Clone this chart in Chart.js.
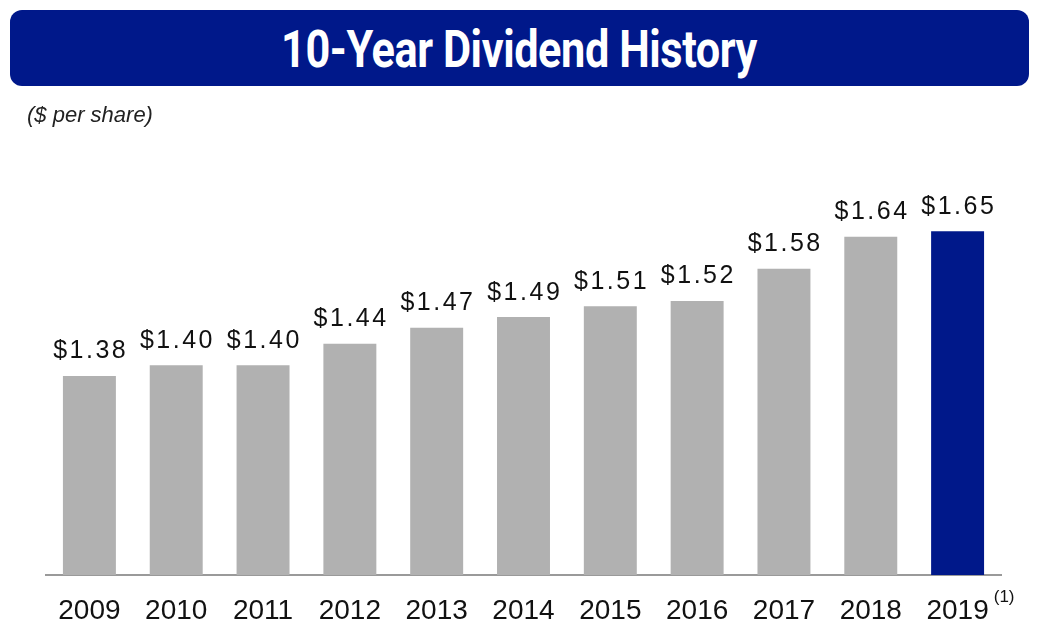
<!DOCTYPE html>
<html>
<head>
<meta charset="utf-8">
<script src="https://cdn.jsdelivr.net/npm/chart.js@4/dist/chart.umd.min.js"></script>
<style>
  html, body { margin: 0; padding: 0; background: #fff; }
  body { width: 1046px; height: 642px; position: relative; overflow: hidden; }
  #banner { position: absolute; left: 10px; top: 10px; width: 1019px; height: 76px; border-radius: 12px; background: #00188a; }
  #title { position: absolute; left: 281px; top: 24px; font-family: Roboto, "Liberation Sans", sans-serif; font-weight: 700; font-size: 52px; line-height: 52px; color: #fff; white-space: nowrap; transform-origin: 0 0; letter-spacing: -0.5px; }
  #subtitle { position: absolute; left: 27px; top: 104px; font-family: "Liberation Sans", Arial, sans-serif; font-style: italic; font-size: 22px; line-height: 22px; color: #222; white-space: nowrap; }
  #wrap { position: absolute; left: 0; top: 0; width: 1046px; height: 642px; }
</style>
</head>
<body>
<div id="wrap"><canvas id="c" width="1046" height="642"></canvas></div>
<div id="banner"></div>
<div id="title">10-Year Dividend History</div>
<div id="subtitle">($ per share)</div>
<script>
const years = ["2009","2010","2011","2012","2013","2014","2015","2016","2017","2018","2019"];
const dividends = [1.38, 1.40, 1.40, 1.44, 1.47, 1.49, 1.51, 1.52, 1.58, 1.64, 1.65];
const valueLabels = ["$1.38","$1.40","$1.40","$1.44","$1.47","$1.49","$1.51","$1.52","$1.58","$1.64","$1.65"];
const footnoteMark = "(1)";
const footnoteIndex = 10;

// fit title width
(function(){
  const t = document.getElementById('title');
  const w = t.getBoundingClientRect().width;
  t.style.transform = 'scaleX(' + (476 / w) + ')';
})();

const barColors = years.map((y, i) => i === years.length - 1 ? '#00188a' : '#b1b1b1');

const valueLabelPlugin = {
  id: 'valueLabels',
  afterDatasetsDraw(chart) {
    const ctx = chart.ctx;
    const meta = chart.getDatasetMeta(0);
    ctx.save();
    ctx.font = '25px "Liberation Sans", Arial, sans-serif';
    ctx.fillStyle = '#111';
    ctx.textAlign = 'center';
    ctx.textBaseline = 'alphabetic';
    ctx.letterSpacing = '2.5px';
    meta.data.forEach((bar, i) => {
      ctx.fillText(valueLabels[i], bar.x + 1.25, bar.y - 17.5);
    });
    ctx.restore();
  },
  afterDraw(chart) {
    const ctx = chart.ctx;
    const xs = chart.scales.x;
    ctx.save();
    ctx.font = '28px "Liberation Sans", Arial, sans-serif';
    const w = ctx.measureText(years[footnoteIndex]).width;
    const px = xs.getPixelForValue(footnoteIndex);
    ctx.font = '17px "Liberation Sans", Arial, sans-serif';
    ctx.fillStyle = '#111';
    ctx.textAlign = 'left';
    ctx.textBaseline = 'alphabetic';
    ctx.fillText(footnoteMark, px + w / 2 + 5, 601.5);
    ctx.restore();
  }
};

new Chart(document.getElementById('c'), {
  type: 'bar',
  data: {
    labels: years,
    datasets: [{
      data: dividends,
      backgroundColor: barColors,
      borderWidth: 0,
      categoryPercentage: 1.0,
      barPercentage: 0.61
    }]
  },
  options: {
    responsive: false,
    animation: false,
    layout: { padding: { left: 46, right: 45, top: 150, bottom: 0 } },
    plugins: { legend: { display: false }, tooltip: { enabled: false }, title: { display: false } },
    scales: {
      x: {
        grid: { display: false, drawTicks: false },
        border: { display: true, color: '#9a9a9a', width: 2 },
        ticks: {
          color: '#111',
          font: { family: '"Liberation Sans", Arial, sans-serif', size: 28 },
          padding: 19,
          maxRotation: 0,
          autoSkip: false
        },
        afterFit(scale) { scale.height = 67; }
      },
      y: {
        display: false,
        min: 1.008,
        max: 1.802
      }
    }
  },
  plugins: [valueLabelPlugin]
});
</script>
</body>
</html>
